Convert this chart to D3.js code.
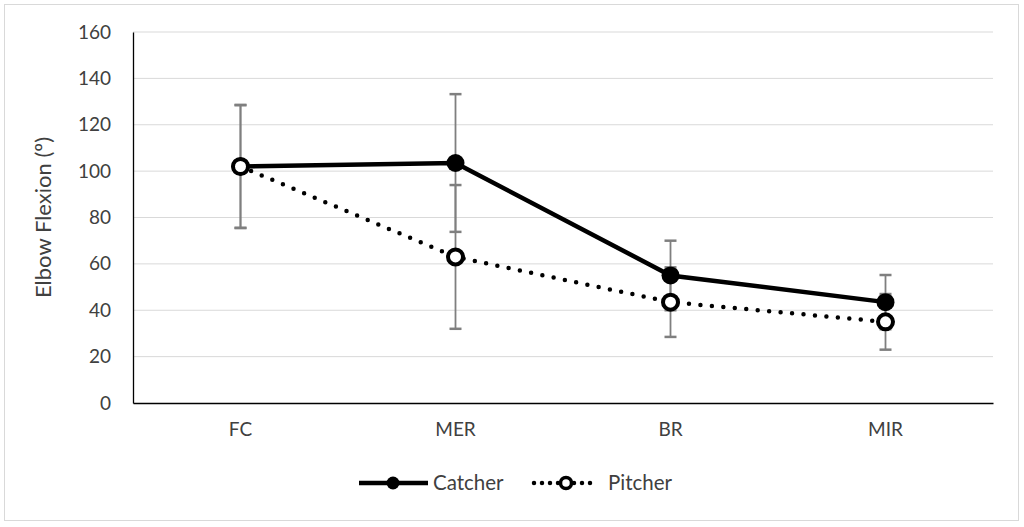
<!DOCTYPE html>
<html>
<head>
  <meta charset="UTF-8">
  <style>
    body { margin: 0; background: #fff; }
    text { font-family: Lato, "Open Sans", sans-serif; fill: #404040; }
  </style>
</head>
<body>
  <svg></svg>
<script src="https://d3js.org/d3.v7.min.js"></script>
<script>
let width = 1024,
    height = 527;

let phases = ["FC", "MER", "BR", "MIR"];
let catcher = [102, 103.5, 55, 43.5];
let catcherErr = [26.5, 29.7, 15, 11.7];
let pitcher = [102, 63, 43.5, 35];
let pitcherErr = [26.5, 31, 15, 12];
let yTicks = [0, 20, 40, 60, 80, 100, 120, 140, 160];

let svg = d3.select("svg")
    .attr("width", width)
    .attr("height", height);

// outer frame
svg.append("rect")
    .attr("x", 4.5).attr("y", 4.5)
    .attr("width", 1014).attr("height", 516)
    .attr("fill", "#fff")
    .attr("stroke", "#d9d9d9");

let margin = {left: 133, right: 993, top: 32, bottom: 403};

let x = d3.scaleBand()
    .domain(phases)
    .range([margin.left, margin.right]);

let y = d3.scaleLinear()
    .domain([0, 160])
    .range([margin.bottom, margin.top]);

let cx = d => x(d) + x.bandwidth() / 2;

// gridlines
svg.append("g")
  .selectAll("line")
  .data(yTicks.slice(1))
  .enter()
  .append("line")
    .attr("x1", margin.left).attr("x2", margin.right)
    .attr("y1", d => y(d)).attr("y2", d => y(d))
    .attr("stroke", "#d9d9d9")
    .attr("stroke-width", 1);

// y axis
let yAxis = svg.append("g")
    .attr("transform", "translate(" + margin.left + ",0)")
    .call(d3.axisLeft(y).tickValues(yTicks).tickSize(0).tickPadding(22));
yAxis.select(".domain").attr("stroke", "#000").attr("stroke-width", 1.3);
yAxis.selectAll("text").style("font-size", "19px").attr("fill", "#404040");

// x axis
let xAxis = svg.append("g")
    .attr("transform", "translate(0," + margin.bottom + ")")
    .call(d3.axisBottom(x).tickSize(0).tickPadding(20));
xAxis.select(".domain").attr("stroke", "#000").attr("stroke-width", 1.3);
xAxis.selectAll("text").style("font-size", "19px").attr("fill", "#404040");

svg.append("text")
    .attr("transform", "translate(51," + (margin.top + margin.bottom) / 2 + ") rotate(-90)")
    .attr("text-anchor", "middle")
    .style("font-size", "22px")
    .text("Elbow Flexion (º)");

// error bars
function errorBars(vals, errs) {
  let g = svg.append("g");
  phases.forEach((p, i) => {
    let top = y(vals[i] + errs[i]), bot = y(vals[i] - errs[i]);
    g.append("line")
      .attr("x1", cx(p)).attr("x2", cx(p))
      .attr("y1", top).attr("y2", bot)
      .attr("stroke", "#7f7f7f").attr("stroke-width", 1.8);
    [top, bot].forEach(yy => {
      g.append("line")
        .attr("x1", cx(p) - 6).attr("x2", cx(p) + 6)
        .attr("y1", yy).attr("y2", yy)
        .attr("stroke", "#7f7f7f").attr("stroke-width", 2.5);
    });
  });
}
errorBars(catcher, catcherErr);
errorBars(pitcher, pitcherErr);

let line = d3.line()
    .x((d, i) => cx(phases[i]))
    .y(d => y(d));

svg.append("path")
    .datum(pitcher)
    .attr("d", line)
    .attr("fill", "none")
    .attr("stroke", "#000")
    .attr("stroke-width", 4.5)
    .attr("stroke-linecap", "round")
    .attr("stroke-dasharray", "0,11.5");

svg.append("path")
    .datum(catcher)
    .attr("d", line)
    .attr("fill", "none")
    .attr("stroke", "#000")
    .attr("stroke-width", 4.5);

svg.append("g")
  .selectAll("circle")
  .data(catcher)
  .enter()
  .append("circle")
    .attr("cx", (d, i) => cx(phases[i]))
    .attr("cy", d => y(d))
    .attr("r", 9)
    .attr("fill", "#000");

svg.append("g")
  .selectAll("circle")
  .data(pitcher)
  .enter()
  .append("circle")
    .attr("cx", (d, i) => cx(phases[i]))
    .attr("cy", d => y(d))
    .attr("r", 7.5)
    .attr("fill", "#fff")
    .attr("stroke", "#000")
    .attr("stroke-width", 4);

// legend
let legY = 483;
let leg = svg.append("g");
leg.append("line")
    .attr("x1", 359).attr("x2", 428)
    .attr("y1", legY).attr("y2", legY)
    .attr("stroke", "#000").attr("stroke-width", 4.5);
leg.append("circle")
    .attr("cx", 393).attr("cy", legY).attr("r", 6.5).attr("fill", "#000");
leg.append("text")
    .attr("x", 433).attr("y", legY + 7)
    .style("font-size", "20.5px")
    .text("Catcher");

leg.append("line")
    .attr("x1", 534).attr("x2", 598)
    .attr("y1", legY).attr("y2", legY)
    .attr("stroke", "#000").attr("stroke-width", 4.5)
    .attr("stroke-linecap", "round")
    .attr("stroke-dasharray", "0,8");
leg.append("circle")
    .attr("cx", 566).attr("cy", legY).attr("r", 5.5)
    .attr("fill", "#fff").attr("stroke", "#000").attr("stroke-width", 3.5);
leg.append("text")
    .attr("x", 608).attr("y", legY + 7)
    .style("font-size", "20.5px")
    .text("Pitcher");
</script>
</body>
</html>
